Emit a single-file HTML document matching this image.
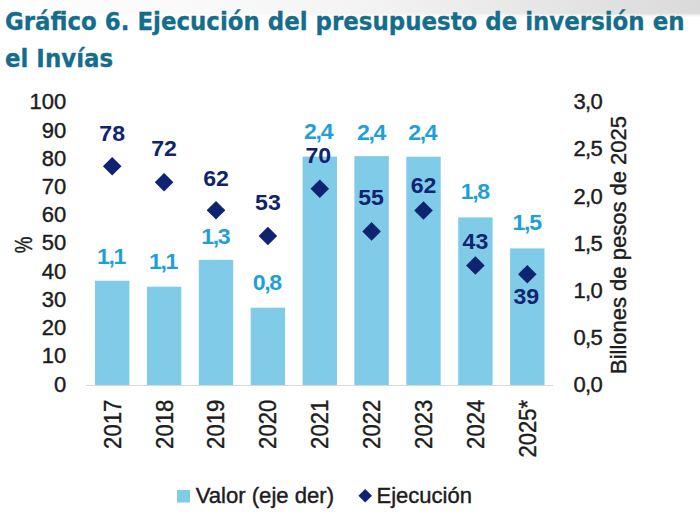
<!DOCTYPE html>
<html><head><meta charset="utf-8"><style>
html,body{margin:0;padding:0;background:#fff;}
body{width:700px;height:516px;overflow:hidden;position:relative;}
.top{position:absolute;left:0;top:0;width:700px;height:48px;background:linear-gradient(to right,rgba(220,220,220,0) 0%,rgba(225,225,225,0.35) 50%,rgba(218,218,218,1) 100%);}
.top2{position:absolute;left:0;top:0;width:700px;height:48px;background:linear-gradient(to bottom,rgba(255,255,255,0) 0px,rgba(255,255,255,0) 13px,rgba(255,255,255,1) 17px);}
svg{position:absolute;left:0;top:0;}
</style></head><body>
<div class="top"></div><div class="top2"></div>
<svg width="700" height="516" viewBox="0 0 700 516" font-family="'Liberation Sans', Arial, sans-serif">
<text transform="translate(5,30) scale(0.955,1)" font-family="'DejaVu Sans', sans-serif" font-size="24" font-weight="bold" fill="#156d8c" stroke="#156d8c" stroke-width="0.3">Gráfico 6. Ejecución del presupuesto de inversión en</text>
<text transform="translate(5,67.4) scale(0.955,1)" font-family="'DejaVu Sans', sans-serif" font-size="24" font-weight="bold" fill="#156d8c" stroke="#156d8c" stroke-width="0.3">el Invías</text>
<text x="66.3" y="109.3" font-size="22" text-anchor="end" fill="#1c1c1c" stroke="#1c1c1c" stroke-width="0.4">100</text>
<text x="66.3" y="137.5" font-size="22" text-anchor="end" fill="#1c1c1c" stroke="#1c1c1c" stroke-width="0.4">90</text>
<text x="66.3" y="165.7" font-size="22" text-anchor="end" fill="#1c1c1c" stroke="#1c1c1c" stroke-width="0.4">80</text>
<text x="66.3" y="194.0" font-size="22" text-anchor="end" fill="#1c1c1c" stroke="#1c1c1c" stroke-width="0.4">70</text>
<text x="66.3" y="222.2" font-size="22" text-anchor="end" fill="#1c1c1c" stroke="#1c1c1c" stroke-width="0.4">60</text>
<text x="66.3" y="250.4" font-size="22" text-anchor="end" fill="#1c1c1c" stroke="#1c1c1c" stroke-width="0.4">50</text>
<text x="66.3" y="278.6" font-size="22" text-anchor="end" fill="#1c1c1c" stroke="#1c1c1c" stroke-width="0.4">40</text>
<text x="66.3" y="306.8" font-size="22" text-anchor="end" fill="#1c1c1c" stroke="#1c1c1c" stroke-width="0.4">30</text>
<text x="66.3" y="335.1" font-size="22" text-anchor="end" fill="#1c1c1c" stroke="#1c1c1c" stroke-width="0.4">20</text>
<text x="66.3" y="363.3" font-size="22" text-anchor="end" fill="#1c1c1c" stroke="#1c1c1c" stroke-width="0.4">10</text>
<text x="66.3" y="391.5" font-size="22" text-anchor="end" fill="#1c1c1c" stroke="#1c1c1c" stroke-width="0.4">0</text>
<text x="573.5" y="109.4" font-size="22" fill="#1c1c1c" stroke="#1c1c1c" stroke-width="0.4">3<tspan dx="-0.7">,</tspan><tspan dx="-0.7">0</tspan></text>
<text x="573.5" y="156.4" font-size="22" fill="#1c1c1c" stroke="#1c1c1c" stroke-width="0.4">2<tspan dx="-0.7">,</tspan><tspan dx="-0.7">5</tspan></text>
<text x="573.5" y="203.5" font-size="22" fill="#1c1c1c" stroke="#1c1c1c" stroke-width="0.4">2<tspan dx="-0.7">,</tspan><tspan dx="-0.7">0</tspan></text>
<text x="573.5" y="250.5" font-size="22" fill="#1c1c1c" stroke="#1c1c1c" stroke-width="0.4">1<tspan dx="-0.7">,</tspan><tspan dx="-0.7">5</tspan></text>
<text x="573.5" y="297.5" font-size="22" fill="#1c1c1c" stroke="#1c1c1c" stroke-width="0.4">1<tspan dx="-0.7">,</tspan><tspan dx="-0.7">0</tspan></text>
<text x="573.5" y="344.6" font-size="22" fill="#1c1c1c" stroke="#1c1c1c" stroke-width="0.4">0<tspan dx="-0.7">,</tspan><tspan dx="-0.7">5</tspan></text>
<text x="573.5" y="391.6" font-size="22" fill="#1c1c1c" stroke="#1c1c1c" stroke-width="0.4">0<tspan dx="-0.7">,</tspan><tspan dx="-0.7">0</tspan></text>
<text transform="translate(31.5,245) rotate(-90) scale(0.78,1)" font-size="24" text-anchor="middle" fill="#1c1c1c" stroke="#1c1c1c" stroke-width="0.4">%</text>
<text transform="translate(625.7,245) rotate(-90) scale(1.0,1.03)" font-size="22" text-anchor="middle" fill="#1c1c1c" stroke="#1c1c1c" stroke-width="0.4">Billones de pesos de 2025</text>
<rect x="95.0" y="280.7" width="34.4" height="104.3" fill="#80cbe8"/>
<rect x="146.9" y="286.7" width="34.4" height="98.3" fill="#80cbe8"/>
<rect x="198.8" y="259.8" width="34.4" height="125.2" fill="#80cbe8"/>
<rect x="250.7" y="307.7" width="34.4" height="77.3" fill="#80cbe8"/>
<rect x="302.6" y="156.6" width="34.4" height="228.4" fill="#80cbe8"/>
<rect x="354.4" y="156.1" width="34.4" height="228.9" fill="#80cbe8"/>
<rect x="406.3" y="156.7" width="34.4" height="228.3" fill="#80cbe8"/>
<rect x="458.2" y="217.4" width="34.4" height="167.6" fill="#80cbe8"/>
<rect x="510.1" y="248.4" width="34.4" height="136.6" fill="#80cbe8"/>
<rect x="86" y="385" width="467" height="1" fill="#d9d9d9"/>
<path d="M112.2 157.0 L121.5 166.3 L112.2 175.6 L102.9 166.3Z" fill="#0f2470"/>
<path d="M164.1 172.9 L173.4 182.2 L164.1 191.5 L154.8 182.2Z" fill="#0f2470"/>
<path d="M216.0 201.0 L225.3 210.3 L216.0 219.6 L206.7 210.3Z" fill="#0f2470"/>
<path d="M267.9 226.7 L277.2 236.0 L267.9 245.3 L258.6 236.0Z" fill="#0f2470"/>
<path d="M319.8 179.5 L329.1 188.8 L319.8 198.1 L310.5 188.8Z" fill="#0f2470"/>
<path d="M371.6 222.1 L380.9 231.4 L371.6 240.7 L362.3 231.4Z" fill="#0f2470"/>
<path d="M423.5 201.2 L432.8 210.5 L423.5 219.8 L414.2 210.5Z" fill="#0f2470"/>
<path d="M475.4 256.2 L484.7 265.5 L475.4 274.8 L466.1 265.5Z" fill="#0f2470"/>
<path d="M527.3 264.9 L536.6 274.2 L527.3 283.5 L518.0 274.2Z" fill="#0f2470"/>
<text transform="translate(112.2,140.9) scale(1.05,1)" font-size="22" font-weight="bold" text-anchor="middle" fill="#0f2470">78</text>
<text transform="translate(164.1,156.4) scale(1.05,1)" font-size="22" font-weight="bold" text-anchor="middle" fill="#0f2470">72</text>
<text transform="translate(216.0,185.9) scale(1.05,1)" font-size="22" font-weight="bold" text-anchor="middle" fill="#0f2470">62</text>
<text transform="translate(267.9,210.0) scale(1.05,1)" font-size="22" font-weight="bold" text-anchor="middle" fill="#0f2470">53</text>
<text transform="translate(318.3,162.7) scale(1.05,1)" font-size="22" font-weight="bold" text-anchor="middle" fill="#0f2470">70</text>
<text transform="translate(371.1,205.2) scale(1.05,1)" font-size="22" font-weight="bold" text-anchor="middle" fill="#0f2470">55</text>
<text transform="translate(423.5,192.8) scale(1.05,1)" font-size="22" font-weight="bold" text-anchor="middle" fill="#0f2470">62</text>
<text transform="translate(475.4,248.7) scale(1.05,1)" font-size="22" font-weight="bold" text-anchor="middle" fill="#0f2470">43</text>
<text transform="translate(526.3,303.8) scale(1.05,1)" font-size="22" font-weight="bold" text-anchor="middle" fill="#0f2470">39</text>
<text transform="translate(111.7,263.6) scale(1.05,1)" font-size="22" font-weight="bold" text-anchor="middle" fill="#1f9fd6">1<tspan dx="-1.3">,</tspan><tspan dx="-1.3">1</tspan></text>
<text transform="translate(163.6,269.3) scale(1.05,1)" font-size="22" font-weight="bold" text-anchor="middle" fill="#1f9fd6">1<tspan dx="-1.3">,</tspan><tspan dx="-1.3">1</tspan></text>
<text transform="translate(216.0,243.7) scale(1.05,1)" font-size="22" font-weight="bold" text-anchor="middle" fill="#1f9fd6">1<tspan dx="-1.3">,</tspan><tspan dx="-1.3">3</tspan></text>
<text transform="translate(267.4,289.8) scale(1.05,1)" font-size="22" font-weight="bold" text-anchor="middle" fill="#1f9fd6">0<tspan dx="-1.3">,</tspan><tspan dx="-1.3">8</tspan></text>
<text transform="translate(318.8,138.8) scale(1.05,1)" font-size="22" font-weight="bold" text-anchor="middle" fill="#1f9fd6">2<tspan dx="-1.3">,</tspan><tspan dx="-1.3">4</tspan></text>
<text transform="translate(371.6,139.6) scale(1.05,1)" font-size="22" font-weight="bold" text-anchor="middle" fill="#1f9fd6">2<tspan dx="-1.3">,</tspan><tspan dx="-1.3">4</tspan></text>
<text transform="translate(423.0,139.6) scale(1.05,1)" font-size="22" font-weight="bold" text-anchor="middle" fill="#1f9fd6">2<tspan dx="-1.3">,</tspan><tspan dx="-1.3">4</tspan></text>
<text transform="translate(475.4,199.4) scale(1.05,1)" font-size="22" font-weight="bold" text-anchor="middle" fill="#1f9fd6">1<tspan dx="-1.3">,</tspan><tspan dx="-1.3">8</tspan></text>
<text transform="translate(527.3,230.0) scale(1.05,1)" font-size="22" font-weight="bold" text-anchor="middle" fill="#1f9fd6">1<tspan dx="-1.3">,</tspan><tspan dx="-1.3">5</tspan></text>
<text transform="translate(120.6,399.8) rotate(-90) scale(0.96,1)" font-size="23" text-anchor="end" fill="#1c1c1c" stroke="#1c1c1c" stroke-width="0.4">2017</text>
<text transform="translate(172.5,399.8) rotate(-90) scale(0.96,1)" font-size="23" text-anchor="end" fill="#1c1c1c" stroke="#1c1c1c" stroke-width="0.4">2018</text>
<text transform="translate(224.4,399.8) rotate(-90) scale(0.96,1)" font-size="23" text-anchor="end" fill="#1c1c1c" stroke="#1c1c1c" stroke-width="0.4">2019</text>
<text transform="translate(276.3,399.8) rotate(-90) scale(0.96,1)" font-size="23" text-anchor="end" fill="#1c1c1c" stroke="#1c1c1c" stroke-width="0.4">2020</text>
<text transform="translate(328.2,399.8) rotate(-90) scale(0.96,1)" font-size="23" text-anchor="end" fill="#1c1c1c" stroke="#1c1c1c" stroke-width="0.4">2021</text>
<text transform="translate(380.0,399.8) rotate(-90) scale(0.96,1)" font-size="23" text-anchor="end" fill="#1c1c1c" stroke="#1c1c1c" stroke-width="0.4">2022</text>
<text transform="translate(431.9,399.8) rotate(-90) scale(0.96,1)" font-size="23" text-anchor="end" fill="#1c1c1c" stroke="#1c1c1c" stroke-width="0.4">2023</text>
<text transform="translate(483.8,399.8) rotate(-90) scale(0.96,1)" font-size="23" text-anchor="end" fill="#1c1c1c" stroke="#1c1c1c" stroke-width="0.4">2024</text>
<text transform="translate(535.7,399.8) rotate(-90) scale(0.96,1)" font-size="23" text-anchor="end" fill="#1c1c1c" stroke="#1c1c1c" stroke-width="0.4">2025*</text>
<rect x="177" y="490" width="13" height="12.5" fill="#80cbe8"/>
<text x="195.7" y="502.8" font-size="22.1" fill="#1c1c1c" stroke="#1c1c1c" stroke-width="0.4">Valor (eje der)</text>
<path d="M365.2 489 L372 495.7 L365.2 502.4 L358.4 495.7Z" fill="#0f2470"/>
<text x="376.5" y="502.8" font-size="22" fill="#1c1c1c" stroke="#1c1c1c" stroke-width="0.4">Ejecución</text>
</svg></body></html>
